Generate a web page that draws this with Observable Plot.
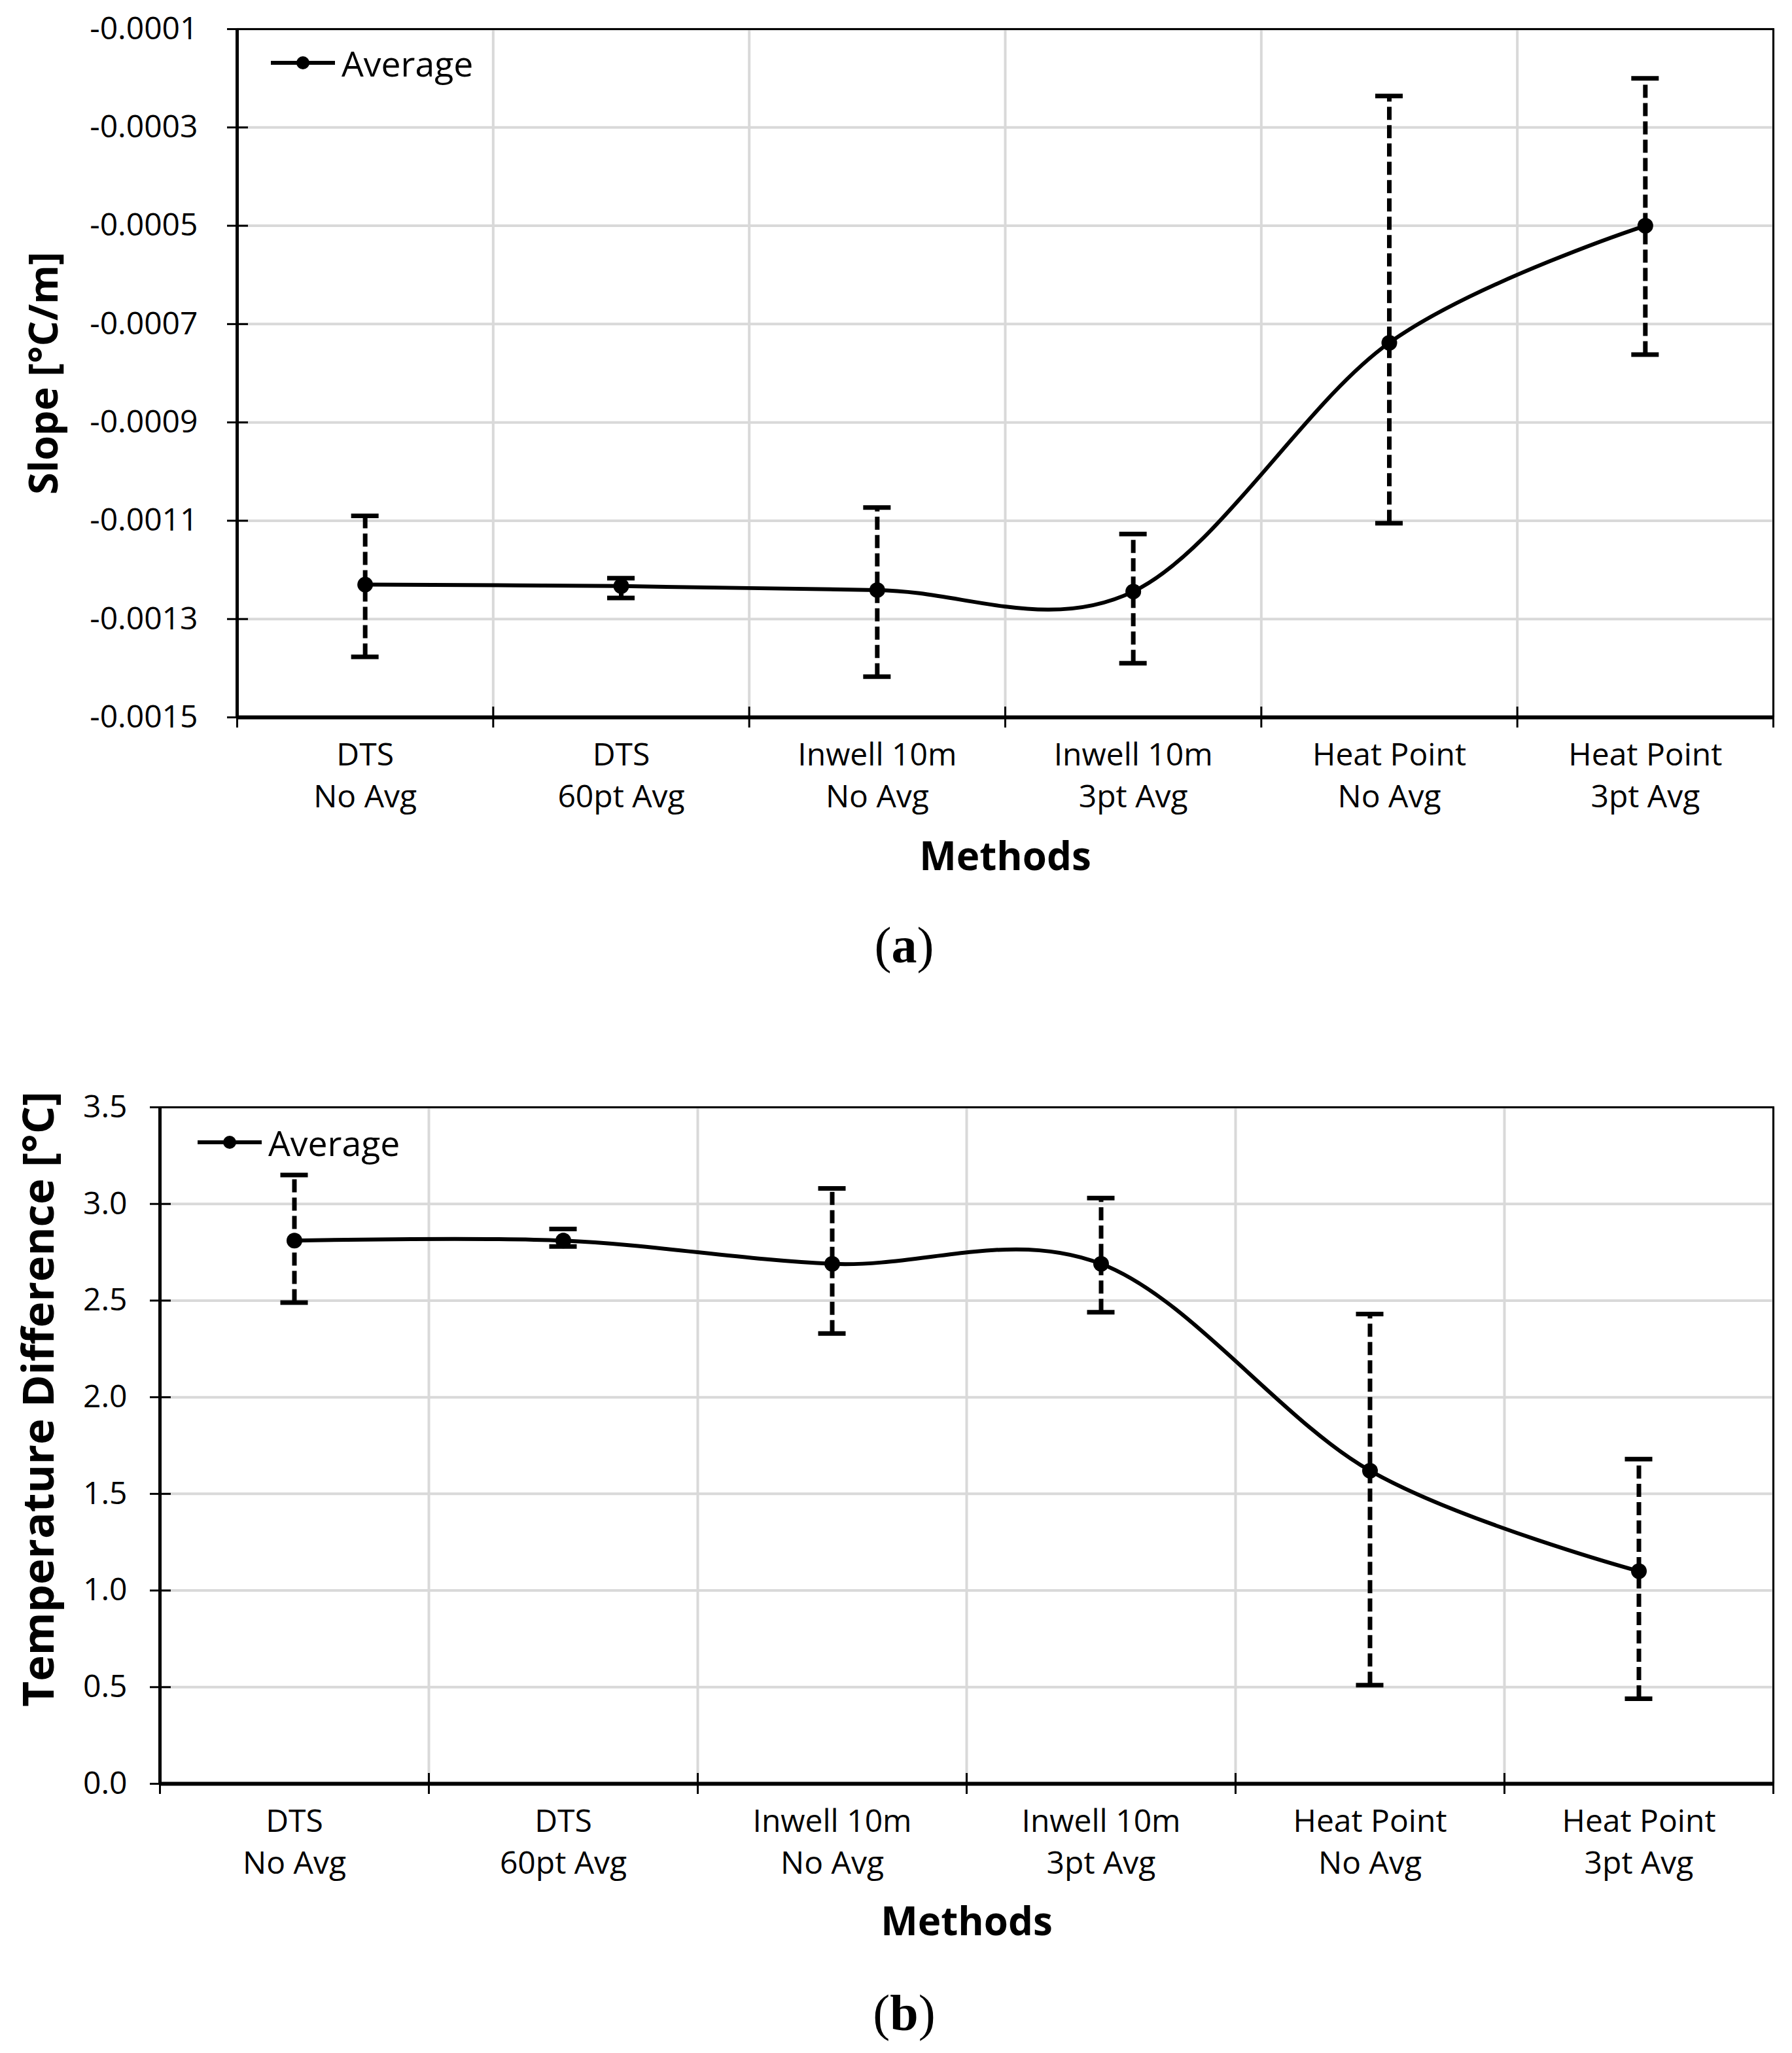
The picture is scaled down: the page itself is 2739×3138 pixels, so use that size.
<!DOCTYPE html>
<html>
<head>
<meta charset="utf-8">
<script src="https://cdn.jsdelivr.net/npm/d3@7"></script>
<script src="https://cdn.jsdelivr.net/npm/@observablehq/plot@0.6"></script>
<style>
  html, body { margin: 0; padding: 0; background: white; }
  #page { position: relative; width: 2739px; height: 3138px; background: white; overflow: hidden; }
  .chart { position: absolute; left: 0; }
  .legend { position: absolute; height: 60px; display: flex; align-items: center; font-family: "Open Sans"; font-size: 53.5px; color: black; }
  .legend span { margin-left: 10px; }
  .caption { position: absolute; transform: translateX(-50%); font-family: "Liberation Serif"; font-size: 78px; line-height: 78px; color: black; }
</style>
</head>
<body>
<div id="page">
  <div class="chart" id="chartA" style="top:0px"></div>
  <div class="chart" id="chartB" style="top:1560px"></div>
  <div class="legend" style="left:414px; top:66px"><svg width="98" height="24"><line x1="0" y1="12" x2="98" y2="12" stroke="black" stroke-width="6"/><circle cx="49" cy="12" r="10" fill="black"/></svg><span>Average</span></div>
  <div class="legend" style="left:302px; top:1716px"><svg width="98" height="24"><line x1="0" y1="12" x2="98" y2="12" stroke="black" stroke-width="6"/><circle cx="49" cy="12" r="10" fill="black"/></svg><span>Average</span></div>
  <div class="caption" style="left:1382px; top:1406px">(<b>a</b>)</div>
  <div class="caption" style="left:1382px; top:3038px">(<b>b</b>)</div>
</div>
<script>
// ---- data ----
const methods = ["DTS\nNo Avg", "DTS\n60pt Avg", "Inwell 10m\nNo Avg", "Inwell 10m\n3pt Avg", "Heat Point\nNo Avg", "Heat Point\n3pt Avg"];

const slopeMean = [-0.00123, -0.001233, -0.001241, -0.001244, -0.000738, -0.0005];
const slopeLow  = [-0.001377, -0.001257, -0.001417, -0.00139, -0.001105, -0.000762];
const slopeHigh = [-0.00109, -0.001217, -0.001073, -0.001127, -0.000236, -0.0002];
const slopeTicks = [-0.0015, -0.0013, -0.0011, -0.0009, -0.0007, -0.0005, -0.0003, -0.0001];

const tempMean = [2.81, 2.81, 2.69, 2.69, 1.62, 1.10];
const tempLow  = [2.49, 2.78, 2.33, 2.44, 0.51, 0.44];
const tempHigh = [3.15, 2.87, 3.08, 3.03, 2.43, 1.68];
const tempTicks = [0, 0.5, 1.0, 1.5, 2.0, 2.5, 3.0, 3.5];

function makeChart(cfg) {
  const rows = methods.map((m, i) => ({method: m, xi: i + 0.5, mean: cfg.mean[i], low: cfg.low[i], high: cfg.high[i]}));
  const boundaries = d3.range(methods.length + 1);
  const centers = methods.map((m, i) => i + 0.5);
  const domain = [cfg.ticks[0], cfg.ticks[cfg.ticks.length - 1]];
  return Plot.plot({
    width: 2739,
    height: cfg.height,
    marginTop: cfg.marginTop,
    marginLeft: cfg.marginLeft,
    marginRight: 29,
    marginBottom: cfg.marginBottom,
    style: {fontFamily: "Open Sans", fontSize: "48px", color: "black", background: "white", overflow: "visible"},
    x: {type: "linear", domain: [0, methods.length]},
    y: {type: "linear", domain},
    marks: [
      Plot.gridX(boundaries, {stroke: "#d9d9d9", strokeOpacity: 1, strokeWidth: 4}),
      Plot.gridY(cfg.ticks, {stroke: "#d9d9d9", strokeOpacity: 1, strokeWidth: 4}),
      Plot.frame({stroke: "black", strokeWidth: 3}),
      Plot.axisY(cfg.ticks, {tickSize: 0, tickPadding: cfg.tickPad, tickFormat: cfg.fmt, label: null, fontSize: 48}),
      Plot.axisY(cfg.ticks, {tickSize: 32, dx: 17, tickFormat: () => "", label: null, strokeWidth: 3}),
      Plot.axisX(centers, {tickSize: 0, tickPadding: 28, tickFormat: v => methods[Math.floor(v)], label: null, lineHeight: 1.34, fontSize: 48}),
      Plot.axisX(boundaries, {tickSize: 32, dy: -16, tickFormat: () => "", label: null, strokeWidth: 3}),
      Plot.ruleX(rows, {x: "xi", y1: "low", y2: "high", stroke: "black", strokeWidth: 7, strokeDasharray: "20,8"}),
      Plot.ruleY(rows, {x1: "xi", x2: "xi", y: "low", insetLeft: -21, insetRight: -21, stroke: "black", strokeWidth: 7}),
      Plot.ruleY(rows, {x1: "xi", x2: "xi", y: "high", insetLeft: -21, insetRight: -21, stroke: "black", strokeWidth: 7}),
      Plot.line(rows, {x: "xi", y: "mean", curve: "cardinal", stroke: "black", strokeWidth: 6}),
      Plot.dot(rows, {x: "xi", y: "mean", r: 12, fill: "black"}),
      Plot.ruleX([0], {stroke: "black", strokeWidth: 5}),
      Plot.ruleY([domain[0]], {stroke: "black", strokeWidth: 6}),
      Plot.text([cfg.yLabel], {text: d => d, frameAnchor: "left", textAnchor: "middle", lineAnchor: "middle", dx: cfg.yLabelDx, dy: cfg.yLabelDy, rotate: -90, fontWeight: "bold", fontSize: cfg.yLabelSize, fill: "black"}),
      Plot.text(["Methods"], {text: d => d, frameAnchor: "bottom", textAnchor: "middle", lineAnchor: "middle", dy: cfg.methodsDy, fontWeight: "bold", fontSize: 60, fill: "black"})
    ]
  });
}

document.getElementById("chartA").append(makeChart({
  mean: slopeMean, low: slopeLow, high: slopeHigh, ticks: slopeTicks,
  fmt: d => d.toFixed(4), yLabel: "Slope [°C/m]",
  height: 1380, marginTop: 44, marginLeft: 362, marginBottom: 284,
  tickPad: 60, yLabelDx: -294, yLabelDy: 0, yLabelSize: 61, methodsDy: 214
}));

document.getElementById("chartB").append(makeChart({
  mean: tempMean, low: tempLow, high: tempHigh, ticks: tempTicks,
  fmt: d => d.toFixed(1), yLabel: "Temperature Difference [°C]",
  height: 1440, marginTop: 132, marginLeft: 244, marginBottom: 274,
  tickPad: 50, yLabelDx: -184, yLabelDy: -71, yLabelSize: 67, methodsDy: 212
}));
</script>
</body>
</html>
